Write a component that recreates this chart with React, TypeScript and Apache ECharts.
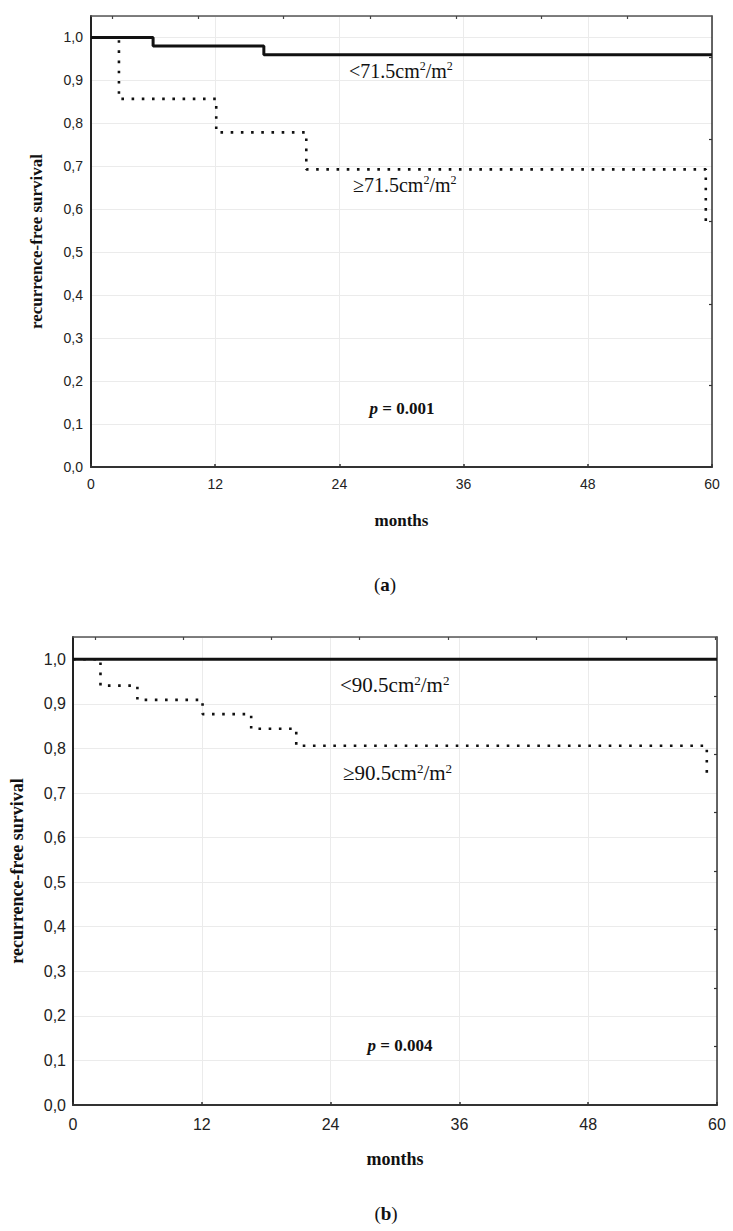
import React, { useEffect, useRef } from "react";
import * as echarts from "echarts";

// Panel (a)
const aLowMonths = [0, 6.0, 16.7, 60];
const aLowSurvival = [1.0, 0.98, 0.96, 0.96];
const aHighMonths = [0, 2.7, 12.1, 20.8, 59.4];
const aHighSurvival = [1.0, 0.857, 0.779, 0.693, 0.56];
const aTopTicks = [2.1, 10.4, 18.6, 27.0, 35.3, 43.5, 51.8];
const aRightTicks = [0.19, 0.38, 0.571, 0.763, 0.954];

// Panel (b)
const bLowMonths = [0, 60];
const bLowSurvival = [1.0, 1.0];
const bHighMonths = [0, 2.56, 6.0, 12.07, 16.6, 20.8, 59.05];
const bHighSurvival = [1.0, 0.941, 0.909, 0.877, 0.844, 0.806, 0.731];
const bTopTicks = [2.04, 10.3, 18.5, 26.7, 35.0, 43.2, 51.5, 59.8];
const bRightTicks = [0.131, 0.262, 0.394, 0.525, 0.657, 0.788, 0.918];

const xTicks = [0, 12, 24, 36, 48, 60];
const yTickLabels = ["0,0", "0,1", "0,2", "0,3", "0,4", "0,5", "0,6", "0,7", "0,8", "0,9", "1,0"];

const pairs = (xs: number[], ys: number[]) => xs.map((x, i) => [x, ys[i]]);

const SANS = "Liberation Sans, Arial, sans-serif";
const SERIF = "Liberation Serif, Times New Roman, serif";

function makeAxes(gi: number, fs: number, labelMarginX: number, labelMarginY: number, nameSize: number, yNameGap: number, topTicks: number[], rightTicks: number[]) {
  const xAxes = [
    {
      gridIndex: gi, type: "value", min: 0, max: 60, interval: 12, position: "bottom",
      name: "months", nameLocation: "middle", nameGap: 45,
      nameTextStyle: { fontFamily: SERIF, fontWeight: "bold", fontSize: nameSize, color: "#111" },
      axisLine: { show: true, onZero: false, lineStyle: { color: "#333", width: 2 } },
      axisTick: { show: true, inside: true, length: 3, lineStyle: { color: "#333", width: 1.5 } },
      axisLabel: { show: true, margin: labelMarginX, fontFamily: SANS, fontSize: fs, color: "#222",
        formatter: (v: number) => (xTicks.includes(v) ? String(v) : "") },
      splitLine: { show: true, lineStyle: { color: "#ebebeb", width: 1 } },
    },
    {
      gridIndex: gi, type: "value", min: 0, max: 60, position: "top",
      axisLine: { show: true, onZero: false, lineStyle: { color: "#555", width: 1.5 } },
      axisTick: { show: true, inside: true, length: 3, customValues: topTicks, lineStyle: { color: "#444", width: 1.2 } },
      axisLabel: { show: false },
      splitLine: { show: false },
    },
  ];
  const yAxes = [
    {
      gridIndex: gi, type: "value", min: 0, max: 1.05, interval: 0.1, position: "left",
      name: "recurrence-free survival", nameLocation: "middle", nameRotate: 90, nameGap: yNameGap,
      nameTextStyle: { fontFamily: SERIF, fontWeight: "bold", fontSize: nameSize, color: "#111" },
      axisLine: { show: true, onZero: false, lineStyle: { color: "#222", width: 2 } },
      axisTick: { show: false },
      axisLabel: { show: true, margin: labelMarginY, fontFamily: SANS, fontSize: fs, color: "#222", showMaxLabel: false,
        formatter: (v: number) => { const i = Math.round(v * 10); return Math.abs(v * 10 - i) < 1e-6 && i <= 10 ? yTickLabels[i] : ""; } },
      splitLine: { show: true, lineStyle: { color: "#ebebeb", width: 1 } },
    },
    {
      gridIndex: gi, type: "value", min: 0, max: 1.05, position: "right",
      axisLine: { show: true, onZero: false, lineStyle: { color: "#333", width: 1.5 } },
      axisTick: { show: true, inside: true, length: 3, customValues: rightTicks, lineStyle: { color: "#333", width: 1.2 } },
      axisLabel: { show: false },
      splitLine: { show: false },
    },
  ];
  return { xAxes, yAxes };
}

export default function App() {
  const ref = useRef<HTMLDivElement>(null);
  useEffect(() => {
    if (!ref.current) return;
    const chart = echarts.init(ref.current, undefined, { renderer: "svg" });
    const a = makeAxes(0, 14, 10, 8, 17, 46, aTopTicks, aRightTicks);
    const b = makeAxes(1, 16, 11, 7, 18, 47, bTopTicks, bRightTicks);
    const dotted = { color: "#111", width: 2.6, type: [2.6, 7.6] as any, cap: "butt" };
    const solid = { color: "#111", width: 3, type: "solid" };
    const pText = (x: number, y: number, val: string, size: number) => ({
      type: "text", x, y,
      style: {
        text: "{i|p}{b| = " + val + "}",
        align: "center", verticalAlign: "middle",
        rich: {
          i: { fontFamily: SERIF, fontStyle: "italic", fontWeight: "bold", fontSize: size, fill: "#111" },
          b: { fontFamily: SERIF, fontWeight: "bold", fontSize: size, fill: "#111" },
        },
      },
    });
    const lbl = (x: number, y: number, sym: string, num: string, size: number) => ({
      type: "text", x, y,
      style: {
        text: "{n|" + sym + num + "cm}{s|2}{n|/m}{s|2}",
        align: "left", verticalAlign: "middle",
        rich: {
          n: { fontFamily: SERIF, fontSize: size, fill: "#111", lineHeight: size + 2 },
          s: { fontFamily: SERIF, fontSize: Math.round(size * 0.62), fill: "#111", verticalAlign: "top", lineHeight: size + 2 },
        },
      },
    });
    const cap = (x: number, y: number, letter: string) => ({
      type: "text", x, y,
      style: {
        text: "{n|(}{b|" + letter + "}{n|)}", align: "center", verticalAlign: "middle",
        rich: {
          n: { fontFamily: SERIF, fontSize: 19, fill: "#111" },
          b: { fontFamily: SERIF, fontSize: 19, fontWeight: "bold", fill: "#111" },
        },
      },
    });
    chart.setOption({
      animation: false,
      backgroundColor: "#ffffff",
      grid: [
        { left: 91, top: 16, width: 621, height: 451 },
        { left: 69, top: 637, width: 648, height: 468 },
      ],
      xAxis: [...a.xAxes, ...b.xAxes],
      yAxis: [...a.yAxes, ...b.yAxes],
      series: [
        { type: "line", xAxisIndex: 0, yAxisIndex: 0, step: "end", data: pairs(aHighMonths, aHighSurvival), showSymbol: false, lineStyle: dotted, z: 2 },
        { type: "line", xAxisIndex: 0, yAxisIndex: 0, step: "end", data: pairs(aLowMonths, aLowSurvival), showSymbol: false, lineStyle: solid, z: 3 },
        { type: "line", xAxisIndex: 2, yAxisIndex: 2, step: "end", data: pairs(bHighMonths, bHighSurvival), showSymbol: false, lineStyle: dotted, z: 2 },
        { type: "line", xAxisIndex: 2, yAxisIndex: 2, step: "end", data: pairs(bLowMonths, bLowSurvival), showSymbol: false, lineStyle: solid, z: 3 },
      ],
      graphic: [
        lbl(349, 71, "<", "71.5", 20),
        lbl(353, 185, "≥", "71.5", 20),
        pText(402, 408, "0.001", 17),
        cap(385, 584, "a"),
        lbl(340, 685, "<", "90.5", 21),
        lbl(343, 773, "≥", "90.5", 21),
        pText(400, 1045, "0.004", 17),
        cap(386, 1213, "b"),
      ],
    });
    return () => chart.dispose();
  }, []);
  return <div ref={ref} style={{ position: "absolute", left: 0, top: 0, width: 733, height: 1231 }} />;
}
